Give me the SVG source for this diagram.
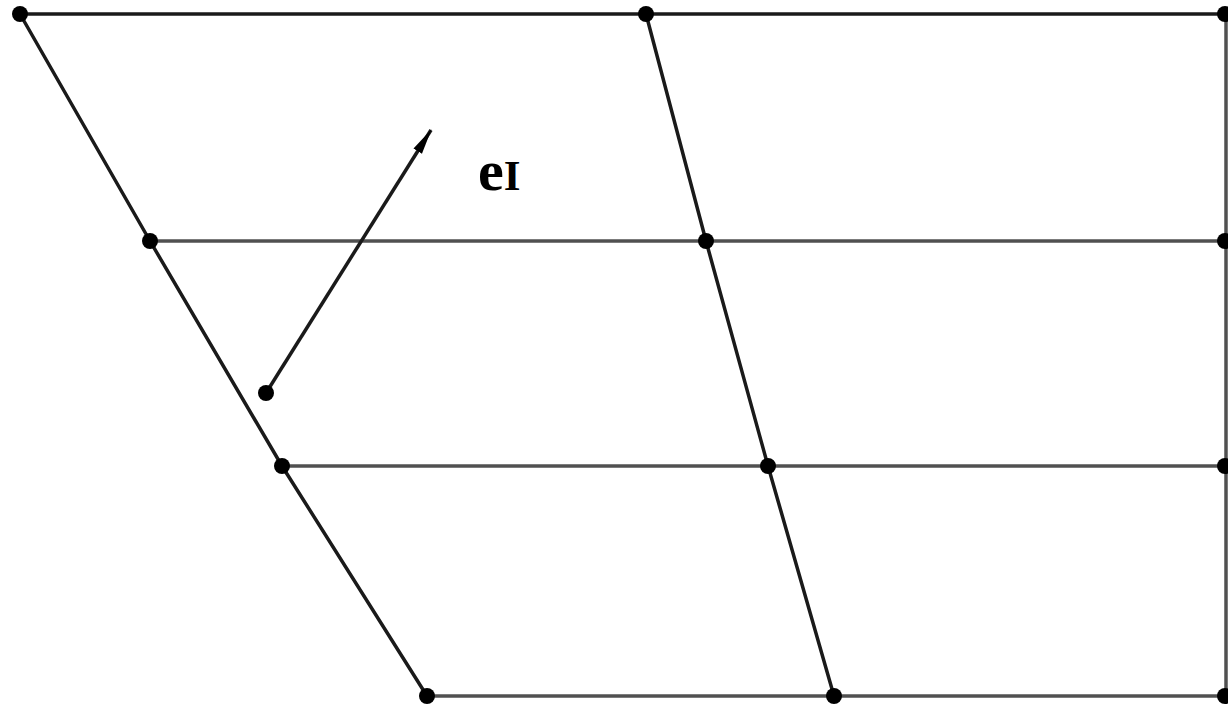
<svg xmlns="http://www.w3.org/2000/svg" width="1228" height="709" viewBox="0 0 1228 709">
<style>
.ln{stroke:#1a1a1a;stroke-width:3.5;fill:none}
.gl{stroke:#505050;stroke-width:3.5;fill:none}
.dot{fill:#000}
.lbl{font-family:"Liberation Serif",serif;font-weight:bold;fill:#000}
</style>
<defs>
<marker id="ah" viewBox="0 0 26 12" refX="25" refY="6" markerWidth="26" markerHeight="12" orient="auto" markerUnits="userSpaceOnUse">
<path d="M0,1 L26,6 L0,11 Z" fill="#000"/>
</marker>
</defs>
<rect width="1228" height="709" fill="#fff"/>
<g id="connectors">
<line class="ln" x1="20" y1="14" x2="1226" y2="14"/>
<line class="gl" x1="150" y1="241" x2="1226" y2="241"/>
<line class="gl" x1="282" y1="466" x2="1226" y2="466"/>
<line class="gl" x1="427" y1="696" x2="1226" y2="696"/>
<line class="gl" x1="1226" y1="14" x2="1226" y2="696"/>
<polyline class="ln" points="20,14 150,241 282,466 427,696"/>
<polyline class="ln" points="646,14 706,241 768,466 834,696"/>
<line class="ln" x1="266" y1="393" x2="431" y2="130" marker-end="url(#ah)"/>
</g>
<g id="nodes">
<circle class="dot" cx="20" cy="14" r="8"/>
<circle class="dot" cx="646" cy="14" r="8"/>
<circle class="dot" cx="1225" cy="14" r="8"/>
<circle class="dot" cx="150" cy="241" r="8"/>
<circle class="dot" cx="706" cy="241" r="8"/>
<circle class="dot" cx="1225" cy="241" r="8"/>
<circle class="dot" cx="282" cy="466" r="8"/>
<circle class="dot" cx="768" cy="466" r="8"/>
<circle class="dot" cx="1225" cy="466" r="8"/>
<circle class="dot" cx="427" cy="696" r="8"/>
<circle class="dot" cx="834" cy="696" r="8"/>
<circle class="dot" cx="1225" cy="696" r="8"/>
<circle class="dot" cx="266" cy="393" r="8"/>
</g>
<g id="label">
<text class="lbl" x="478" y="190" font-size="58">e<tspan font-size="43">I</tspan></text>
</g>
</svg>
